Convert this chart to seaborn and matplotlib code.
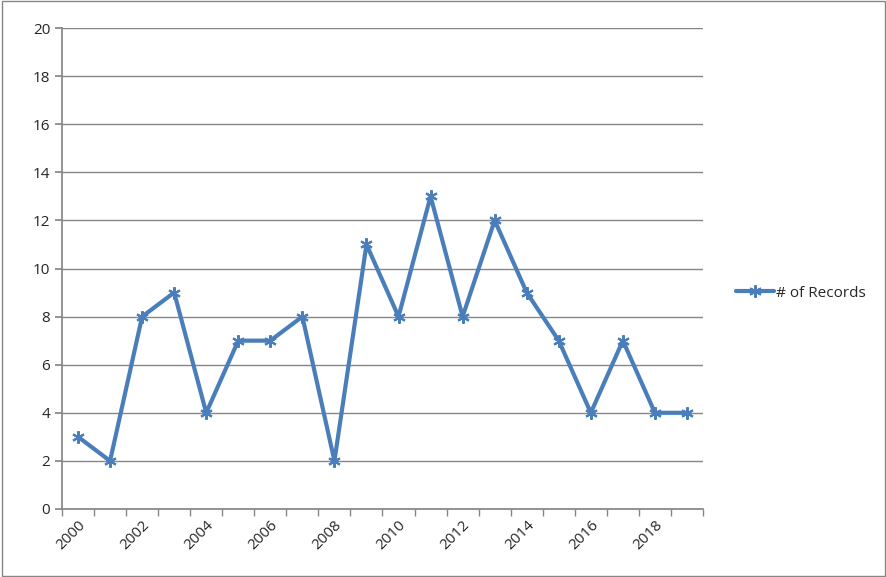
import matplotlib
matplotlib.use("Agg")
import matplotlib.pyplot as plt
import seaborn as sns
import pandas as pd
import numpy as np

anos = list(range(2000, 2020))
registros = [3, 2, 8, 9, 4, 7, 7, 8, 2, 11, 8, 13, 8, 12, 9, 7, 4, 7, 4, 4]

df = pd.DataFrame({"pos": np.arange(len(anos)), "registros": registros})

sns.set_theme(style="white")
plt.rcParams["font.family"] = ["Open Sans", "DejaVu Sans"]

fig = plt.figure(figsize=(8.87, 5.77), dpi=100)
ax = fig.add_axes([62 / 887, 1 - 509 / 577, 641 / 887, 481 / 577])

sns.lineplot(data=df, x="pos", y="registros", ax=ax, color="#4a7ebb",
             linewidth=3, marker=(6, 2, 0), markersize=9, markeredgewidth=1.5,
             markeredgecolor="#4a7ebb", label="# of Records")

ax.set_xlim(-0.5, len(anos) - 0.5)
ax.set_ylim(0, 20)
ax.set_yticks(range(0, 21, 2))
ax.yaxis.grid(True, color="#868686", linewidth=1)
ax.set_xticks(np.arange(-0.5, len(anos), 1), minor=True)
ax.set_xticks(np.arange(0, len(anos), 2))
ax.set_xticklabels([str(a) for a in anos[::2]], rotation=45, ha="right",
                   rotation_mode="anchor")
ax.tick_params(axis="x", which="major", length=0, labelsize=11, pad=6)
ax.tick_params(axis="x", which="minor", length=5, color="#868686", bottom=True)
ax.tick_params(axis="y", labelsize=11, length=5, left=True, color="#868686")
ax.set_xlabel("")
ax.set_ylabel("")
for s in ["top", "right"]:
    ax.spines[s].set_visible(False)
for s in ["left", "bottom"]:
    ax.spines[s].set_color("#868686")

leg = ax.legend(loc="center left", bbox_to_anchor=(1.03, 0.449), frameon=False,
                fontsize=11, handlelength=2.5, handletextpad=0.1)

fig.patches.append(plt.Rectangle((0.002, 0.002), 0.996, 0.996, transform=fig.transFigure,
                                 fill=False, edgecolor="#868686", linewidth=1))

fig.savefig("out.png", dpi=100)
